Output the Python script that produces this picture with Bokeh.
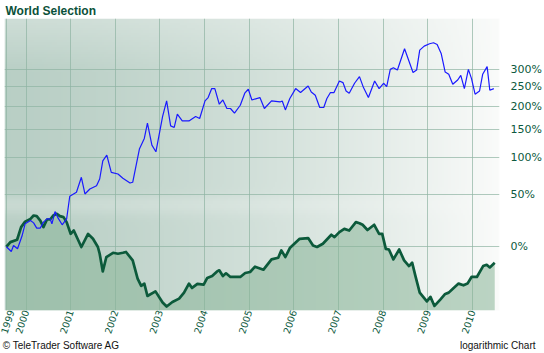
import numpy as np
from bokeh.plotting import figure
from bokeh.models import Range1d, FixedTicker, Title, LinearAxis
from bokeh.embed import file_html
from bokeh.resources import INLINE

# ---- data (decimal years, performance in %) ----
green_years = [1999.56, 1999.65, 1999.80, 1999.89, 1999.98, 2000.10, 2000.17, 2000.24, 2000.32, 2000.39,
               2000.47, 2000.54, 2000.61, 2000.69, 2000.76, 2000.84, 2000.91, 2001.00, 2001.07, 2001.24,
               2001.39, 2001.50, 2001.61, 2001.65, 2001.72, 2001.80, 2001.95, 2002.06, 2002.17, 2002.24,
               2002.39, 2002.50, 2002.58, 2002.65, 2002.72, 2002.90, 2003.06, 2003.15, 2003.28, 2003.43,
               2003.54, 2003.65, 2003.72, 2003.84, 2003.98, 2004.06, 2004.17, 2004.28, 2004.33, 2004.41,
               2004.48, 2004.58, 2004.80, 2004.91, 2005.02, 2005.13, 2005.32, 2005.50, 2005.65, 2005.72,
               2005.81, 2005.91, 2006.13, 2006.32, 2006.43, 2006.52, 2006.65, 2006.84, 2006.91, 2007.02,
               2007.13, 2007.24, 2007.39, 2007.47, 2007.54, 2007.65, 2007.80, 2007.91, 2007.98, 2008.06,
               2008.13, 2008.23, 2008.36, 2008.47, 2008.58, 2008.65, 2008.72, 2008.82, 2008.98, 2009.06,
               2009.15, 2009.28, 2009.39, 2009.47, 2009.58, 2009.69, 2009.80, 2009.89, 2009.98, 2010.10,
               2010.24, 2010.32, 2010.39, 2010.50]
green_pct = [0.0, 3.7, 5.6, 16.6, 21.7, 24.3, 27.6, 27.0, 22.7, 16.6,
             23.7, 23.7, 27.6, 29.3, 27.0, 26.0, 21.2, 10.6, 13.5, -0.2,
             10.6, 6.4, -0.2, -5.3, -17.5, -7.7, -4.6, -5.3, -4.6, -4.0,
             -10.1, -22.0, -26.3, -25.0, -31.9, -29.4, -35.3, -37.3, -35.0, -33.3,
             -30.1, -25.0, -27.5, -25.2, -25.6, -21.6, -20.4, -17.5, -16.8, -20.4,
             -18.7, -21.0, -21.0, -18.5, -17.9, -14.4, -16.4, -9.4, -8.2, -2.8,
             -7.7, -1.0, 6.4, 7.0, 1.0, -0.2, 2.4, 9.8, 7.8, 12.1,
             15.0, 13.5, 21.2, 20.2, 18.7, 14.0, 18.7, 10.6, 10.6, -1.6,
             -2.1, -9.4, -2.1, -10.1, -14.0, -11.7, -20.0, -30.1, -34.7, -32.4,
             -37.0, -33.8, -30.8, -30.1, -27.5, -25.0, -26.0, -25.0, -21.0, -21.0,
             -14.0, -13.1, -14.9, -11.7]

blue_years = [1999.56, 1999.67, 1999.72, 1999.81, 1999.91, 1999.98, 2000.10, 2000.17, 2000.24, 2000.32,
              2000.39, 2000.47, 2000.54, 2000.58, 2000.65, 2000.72, 2000.81, 2000.91, 2000.98, 2001.13,
              2001.24, 2001.32, 2001.43, 2001.58, 2001.65, 2001.72, 2001.81, 2001.91, 2002.06, 2002.17,
              2002.33, 2002.39, 2002.54, 2002.65, 2002.72, 2002.82, 2002.91, 2003.06, 2003.15, 2003.24,
              2003.32, 2003.39, 2003.50, 2003.65, 2003.80, 2003.89, 2004.01, 2004.08, 2004.16, 2004.23,
              2004.33, 2004.41, 2004.50, 2004.58, 2004.67, 2004.80, 2004.90, 2004.98, 2005.06, 2005.24,
              2005.34, 2005.50, 2005.69, 2005.74, 2005.81, 2005.91, 2006.04, 2006.15, 2006.32, 2006.39,
              2006.48, 2006.58, 2006.67, 2006.74, 2006.82, 2006.90, 2007.02, 2007.10, 2007.17, 2007.24,
              2007.36, 2007.47, 2007.56, 2007.67, 2007.81, 2007.91, 2008.01, 2008.08, 2008.16, 2008.23,
              2008.32, 2008.48, 2008.67, 2008.75, 2008.82, 2008.92, 2009.04, 2009.13, 2009.21, 2009.30,
              2009.39, 2009.47, 2009.56, 2009.67, 2009.74, 2009.82, 2009.91, 2009.98, 2010.06, 2010.16,
              2010.23, 2010.33, 2010.39, 2010.48]
blue_pct = [0.0, -3.6, 1.0, -1.6, 8.7, 19.6, 22.7, 20.5, 15.7, 15.7,
            21.2, 24.3, 24.3, 19.6, 31.6, 25.0, 18.7, 24.3, 48.3, 53.0,
            72.0, 51.0, 57.0, 61.1, 69.7, 95.6, 104.5, 78.8, 76.5, 70.7,
            64.5, 65.4, 114.3, 132.9, 162.4, 121.1, 109.9, 176.5, 212.1, 157.0,
            153.8, 181.4, 167.1, 167.1, 176.5, 172.2, 212.1, 220.4, 243.7, 243.7,
            204.2, 214.5, 194.2, 194.2, 183.6, 201.8, 231.5, 242.0, 214.5, 220.4,
            194.2, 212.1, 209.7, 212.1, 191.0, 218.0, 243.7, 233.3, 250.8, 234.9,
            226.4, 196.5, 196.5, 218.0, 233.3, 233.3, 264.7, 260.2, 237.3, 231.5,
            258.3, 277.4, 246.4, 220.4, 264.7, 243.7, 258.3, 249.1, 299.4, 304.7,
            297.2, 369.2, 289.9, 297.2, 364.2, 378.9, 387.9, 391.7, 385.2, 352.4,
            291.1, 284.2, 255.4, 267.5, 281.2, 243.7, 299.4, 271.5, 228.9, 237.3,
            284.2, 307.9, 239.3, 243.7]

year_ticks = [1999.56, 2000, 2001, 2002, 2003, 2004, 2005, 2006, 2007, 2008, 2009, 2010]
year_labels = ["1999", "2000", "2001", "2002", "2003", "2004", "2005", "2006", "2007", "2008", "2009", "2010"]
pct_ticks = [0, 50, 100, 150, 200, 250, 300]

# footer notes and where their centres sit along the time axis
footer_texts = ["© TeleTrader Software AG", "logarithmic Chart"]
footer_pos = [2000.79, 2010.567]

X_START, X_END = 1999.518, 2010.607
PCT_MIN, PCT_MAX = -39.2, 494.0

assert len(green_years) == len(green_pct)
assert len(blue_years) == len(blue_pct)


def factor(p):
    return 1.0 + p / 100.0


green_f = [factor(v) for v in green_pct]
blue_f = [factor(v) for v in blue_pct]
Y0, Y1 = factor(PCT_MIN), factor(PCT_MAX)

DARK_GREEN = "#0c5a3b"
TEXT_GREEN = "#0d5a40"

p = figure(width=544, height=353, output_backend="svg", toolbar_location=None,
           y_axis_type="log", y_axis_location="right",
           x_range=Range1d(X_START, X_END), y_range=Range1d(Y0, Y1),
           min_border_left=4, min_border_right=41, min_border_top=0, min_border_bottom=30,
           outline_line_color=None, background_fill_color="white", border_fill_color="white")
p.title = Title(text="World Selection", align="left", offset=1, standoff=2,
                text_font="Liberation Sans", text_font_style="bold", text_font_size="12px",
                text_color="#0b5139")

# background gradient (decoration)
H, W = 120, 240
xf = np.linspace(0, 1, W)[None, :]
yf = np.linspace(0, 1, H)[:, None]
mix = 0.12 + 0.88 * xf ** 1.4
mix = mix + 0.3 * np.clip((yf - 0.82) / 0.18, 0, 1) * (1 - xf)
mix = mix + 0.22 * np.exp(-((yf - 0.36) / 0.035) ** 2) * (1 - xf)
mix = np.clip(mix, 0, 1)
dark = np.array([176, 201, 190])
light = np.array([250, 251, 250])
img = np.empty((H, W), dtype=np.uint32)
view = img.view(dtype=np.uint8).reshape((H, W, 4))
for c in range(3):
    view[:, :, c] = (dark[c] + mix * (light[c] - dark[c])).astype(np.uint8)
view[:, :, 3] = 255
p.image_rgba(image=[img], x=X_START, y=Y0, dw=X_END - X_START, dh=Y1 - Y0, level="image")

# green area + lines
p.varea(x=green_years, y1=[Y0] * len(green_years), y2=green_f, fill_color="#89b498", fill_alpha=0.55)
p.line(green_years, green_f, line_color=DARK_GREEN, line_width=2.7, line_join="round")
p.line(blue_years, blue_f, line_color="#1a1aff", line_width=1.2)

# axes
xa = p.xaxis[0]
xa.ticker = FixedTicker(ticks=year_ticks)
xa.major_label_overrides = {t: l for t, l in zip(year_ticks, year_labels)}
xa.major_label_orientation = 1.25
xa.major_label_text_font = "DejaVu Sans"
xa.major_label_text_font_size = "9.5px"
xa.major_label_text_line_height = 1.0
xa.major_label_text_color = TEXT_GREEN
xa.major_label_standoff = 0
xa.axis_line_color = None
xa.major_tick_line_color = None
xa.minor_tick_line_color = None
xa.major_tick_out = 0

# footer line as a second, label-only axis below
fa = LinearAxis(ticker=FixedTicker(ticks=footer_pos),
                major_label_overrides={t: s for t, s in zip(footer_pos, footer_texts)},
                major_label_text_font="Liberation Sans", major_label_text_font_size="10px",
                major_label_text_line_height=1.0, major_label_text_color="#111111",
                major_label_standoff=1, axis_line_color=None, major_tick_line_color=None,
                minor_tick_line_color=None, major_tick_out=0, major_tick_in=0)
p.add_layout(fa, "below")

ya = p.yaxis[0]
pct_vals = [factor(v) for v in pct_ticks]
ya.ticker = FixedTicker(ticks=pct_vals)
ya.major_label_overrides = {t: f"{v}%" for t, v in zip(pct_vals, pct_ticks)}
ya.major_label_text_font = "DejaVu Sans"
ya.major_label_text_font_size = "11px"
ya.major_label_text_color = TEXT_GREEN
ya.major_label_standoff = 5
ya.axis_line_color = None
ya.major_tick_line_color = None
ya.minor_tick_line_color = None

p.xgrid.ticker = FixedTicker(ticks=year_ticks)
p.ygrid.ticker = FixedTicker(ticks=pct_vals)
for g in (p.xgrid[0], p.ygrid[0]):
    g.grid_line_color = "#8fb3a2"
    g.grid_line_alpha = 0.7
    g.grid_line_width = 1

open("out.html", "w").write(file_html(p, INLINE))
